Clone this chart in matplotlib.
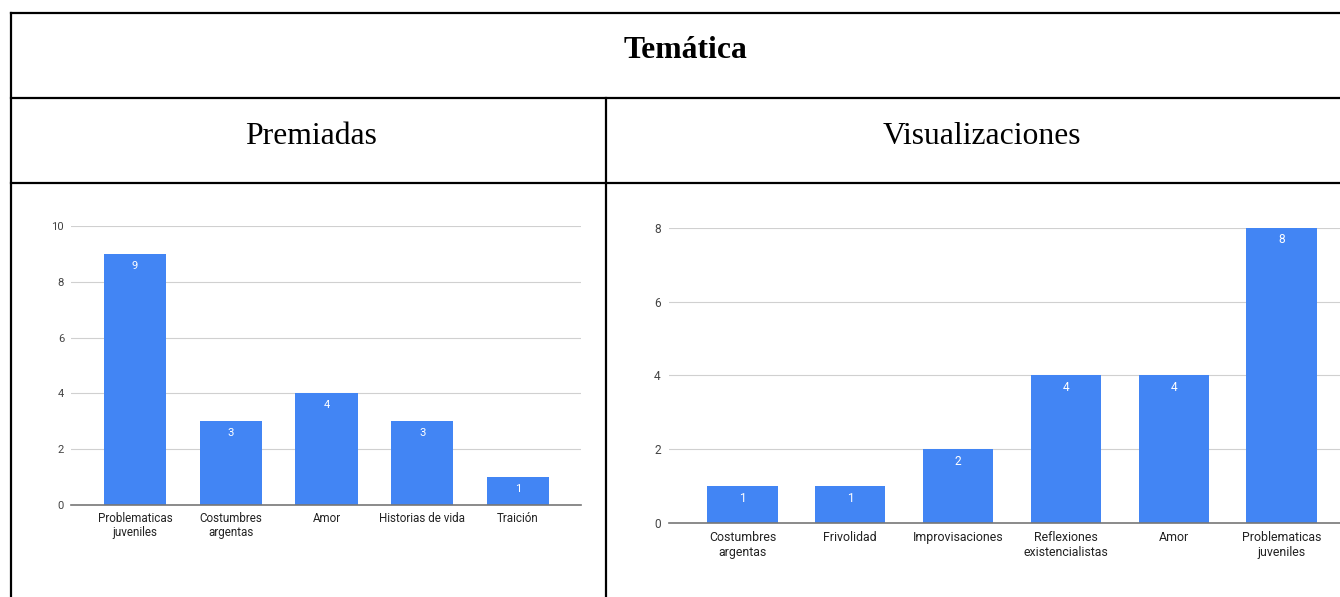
import matplotlib
matplotlib.use('Agg')
import matplotlib.pyplot as plt

# data
premiadas_cats = ['Problematicas\njuveniles', 'Costumbres\nargentas', 'Amor', 'Historias de vida', 'Traición']
premiadas_vals = [9, 3, 4, 3, 1]
visual_cats = ['Costumbres\nargentas', 'Frivolidad', 'Improvisaciones', 'Reflexiones\nexistencialistas', 'Amor', 'Problematicas\njuveniles']
visual_vals = [1, 1, 2, 4, 4, 8]
premiadas_ticks = [0, 2, 4, 6, 8, 10]
visual_ticks = [0, 2, 4, 6, 8]

W, H = 1340, 597
blue = '#4285f4'
sans = ['Roboto', 'DejaVu Sans']
serif = ['Liberation Serif', 'DejaVu Serif']

fig = plt.figure(figsize=(W / 100, H / 100), dpi=100)

# table frame drawn in pixel coords
frame = fig.add_axes([0, 0, 1, 1])
frame.set_xlim(0, W)
frame.set_ylim(H, 0)
frame.axis('off')
lw = 1.6
frame.plot([11, W], [13, 13], color='black', lw=lw)
frame.plot([11, 11], [13, H], color='black', lw=lw)
frame.plot([11, W], [98, 98], color='black', lw=lw)
frame.plot([11, W], [183, 183], color='black', lw=lw)
frame.plot([605.5, 605.5], [98, H], color='black', lw=lw)
frame.text(685, 58, 'Temática', ha='center', va='baseline', fontsize=22.8,
           fontweight='bold', family=serif)
frame.text(311, 144, 'Premiadas', ha='center', va='baseline', fontsize=22.8, family=serif)
frame.text(982, 144, 'Visualizaciones', ha='center', va='baseline', fontsize=22.8, family=serif)


def bar_chart(rect, cats, vals, ticks, xlim, fs, pad, ypad):
    ax = fig.add_axes(rect)
    x = list(range(len(cats)))
    ax.bar(x, vals, width=0.65, color=blue, zorder=3)
    ax.set_xlim(*xlim)
    ax.set_ylim(ticks[0], ticks[-1])
    ax.set_yticks(ticks)
    ax.set_xticks(x)
    ax.set_xticklabels(cats, fontsize=fs, family=sans, color='#222222', linespacing=1.15)
    ax.set_yticklabels([str(t) for t in ticks], fontsize=fs - 0.3, family=sans, color='#444444')
    ax.tick_params(axis='both', length=0)
    ax.tick_params(axis='x', pad=pad)
    ax.tick_params(axis='y', pad=ypad)
    ax.grid(axis='y', color='#d0d0d0', lw=0.8, zorder=0)
    for s in ['top', 'right', 'left']:
        ax.spines[s].set_visible(False)
    ax.spines['bottom'].set_color('#777777')
    ax.spines['bottom'].set_linewidth(1.2)
    ax.spines['bottom'].set_zorder(4)
    for xi, v in zip(x, vals):
        ax.annotate(str(v), (xi, v), xytext=(0, -12), textcoords='offset pixels',
                    ha='center', va='center', fontsize=fs - 0.3, color='white',
                    family=sans, zorder=5)
    ax.set_facecolor('none')
    return ax


bar_chart([71 / W, 92 / H, 510 / W, 279 / H], premiadas_cats, premiadas_vals,
          premiadas_ticks, (-0.668, 4.658), 8.4, 5, 5)
bar_chart([669 / W, 74 / H, 686 / W, 295.3 / H], visual_cats, visual_vals,
          visual_ticks, (-0.682, 5.682), 8.9, 6, 6)

plt.savefig('out.png', dpi=100)
